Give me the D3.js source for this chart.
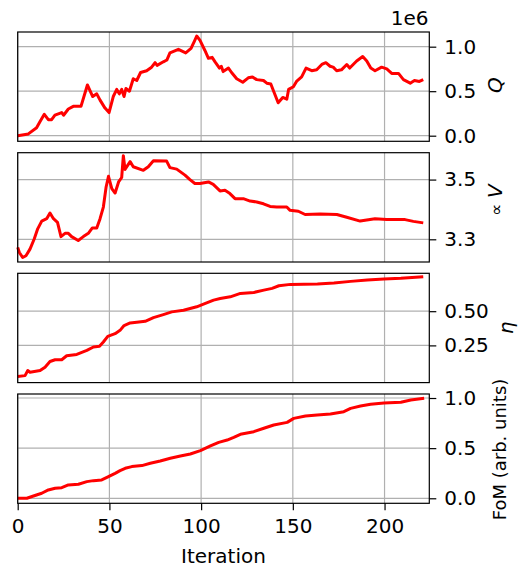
<!DOCTYPE html>
<html>
<head>
<meta charset="utf-8">
<script src="https://cdn.jsdelivr.net/npm/d3@7"></script>
<style>
body { margin: 0; background: #fff; }
svg text { font-family: "DejaVu Sans", sans-serif; fill: #000; }
</style>
</head>
<body>
<div id="chart"></div>
<script>
// values, per panel (iteration, value)
var qIter = [0,5.8,10.3,12.2,14.5,16.7,18.5,20.3,24,25,27.6,30.3,34.5,38,40.9,43.1,44.9,47.6,49.8,52.1,54,55.4,56.7,58,59,60.9,63,64.9,67,70.3,73,74.9,76,79.4,81.3,83,87.6,91.6,94.5,96.3,97.6,99.4,102,104,106,107.6,110,111,112,114.9,116.6,119.4,122.7,125.7,128,130.3,134,135.8,138,139.7,142,144.5,146.7,147.7,150.3,152,154.8,157.2,160.3,163,165.8,168,170.3,172,173.9,176.5,179.4,181,184.8,188.1,190.3,192.5,194.8,198.4,201.2,203.9,207.6,210.3,214,216.3,219,221.1];
var qMillions = [0,0.02,0.09,0.16,0.24,0.18,0.18,0.23,0.26,0.23,0.30,0.33,0.33,0.57,0.44,0.47,0.40,0.31,0.26,0.44,0.52,0.47,0.52,0.44,0.53,0.50,0.64,0.62,0.71,0.73,0.77,0.82,0.79,0.83,0.85,0.93,0.97,0.93,0.98,1.06,1.12,1.07,0.96,0.87,0.88,0.83,0.76,0.78,0.72,0.76,0.71,0.64,0.60,0.65,0.66,0.63,0.62,0.59,0.58,0.49,0.37,0.43,0.41,0.52,0.55,0.61,0.66,0.76,0.73,0.74,0.80,0.82,0.78,0.77,0.73,0.74,0.80,0.76,0.84,0.89,0.84,0.76,0.73,0.77,0.75,0.70,0.70,0.63,0.59,0.62,0.61,0.63];

var vIter = [0,0.9,2.7,4.5,6.7,9,10.9,13.1,15.8,17.6,19.5,21.7,23.6,25.8,27.6,29.4,33,35.8,38.5,40.7,43.1,44.9,46.7,48.2,49.5,51.3,53.1,55,56.7,57.6,58.5,61.3,63,68.5,71.2,74,81.2,83,86.7,91.2,93.9,96.6,99.4,104,106.6,110.3,113,115.7,118.5,123,126.7,130.3,134,137.6,141.2,146.7,148.5,153,156.7,164.9,174,179.4,186.7,194.8,201.2,211.2,215.7,221.1];
var vValues = [3.273,3.256,3.239,3.245,3.267,3.301,3.335,3.361,3.369,3.388,3.369,3.357,3.309,3.320,3.320,3.309,3.296,3.309,3.320,3.338,3.338,3.369,3.408,3.475,3.511,3.470,3.455,3.492,3.507,3.580,3.534,3.560,3.543,3.531,3.543,3.563,3.562,3.540,3.535,3.515,3.500,3.487,3.487,3.492,3.484,3.462,3.464,3.453,3.436,3.436,3.428,3.425,3.419,3.410,3.408,3.408,3.397,3.394,3.383,3.385,3.383,3.374,3.361,3.369,3.366,3.366,3.360,3.355];

var etaIter = [0,4,5.5,6.7,12.2,14.9,17.6,20.4,24,26.7,32.2,37.7,41.3,44.6,46.7,49.1,53.1,55.8,58,61.3,64.9,69.5,74,79.4,84,90.4,97.6,101.3,106.8,110.4,115.9,121.4,128.7,134.2,138.7,142.4,148.7,163.4,172.4,181.5,190.6,199.7,208.9,221.1];
var etaValues = [0.022,0.029,0.066,0.054,0.066,0.091,0.132,0.145,0.145,0.174,0.184,0.213,0.238,0.243,0.275,0.316,0.336,0.360,0.395,0.414,0.419,0.426,0.453,0.475,0.495,0.507,0.532,0.551,0.581,0.593,0.605,0.630,0.637,0.654,0.667,0.686,0.696,0.699,0.706,0.718,0.728,0.735,0.740,0.752];

var fomIter = [0,5,8.6,13.1,16.7,20.4,24,27.6,33.1,37.7,41.3,45.8,49.5,53.1,55.8,58.6,62.2,67.7,72.3,77.7,83.2,88.7,94.1,99.6,105.1,109.6,114.2,117.8,121.4,128.7,134.2,139.6,146.9,150.5,156.9,163.3,170.5,177.8,181.5,186.9,192.4,199.7,208.9,214.3,221.6];
var fomValues = [0,0,0.023,0.050,0.083,0.100,0.106,0.133,0.140,0.166,0.176,0.183,0.216,0.249,0.276,0.299,0.316,0.326,0.349,0.372,0.399,0.422,0.442,0.475,0.522,0.558,0.581,0.608,0.638,0.664,0.698,0.731,0.757,0.797,0.821,0.831,0.841,0.864,0.897,0.920,0.937,0.950,0.957,0.980,0.997];

var xTicks = [0, 50, 100, 150, 200];
var qTicks = [0, 0.5, 1.0];
var vTicks = [3.3, 3.5];
var etaTicks = [0.25, 0.5];
var fomTicks = [0, 0.5, 1.0];

const width = 518;
const height = 568;
const left = 17.7, right = 429.3;
const panelH = 109.3;
const tops = [32, 152.7, 273.3, 394];

var svg = d3.select("#chart").append("svg")
    .attr("width", width)
    .attr("height", height);

var x = d3.scaleLinear().domain([0, 224.4]).range([left, right]);

var panels = [
    {xs: qIter, ys: qMillions, domain: [-0.063, 1.165], ticks: qTicks, fmt: d3.format(".1f")},
    {xs: vIter, ys: vValues, domain: [3.224, 3.590], ticks: vTicks, fmt: d3.format(".1f")},
    {xs: etaIter, ys: etaValues, domain: [-0.022, 0.777], ticks: etaTicks, fmt: d3.format(".2f")},
    {xs: fomIter, ys: fomValues, domain: [-0.05, 1.04], ticks: fomTicks, fmt: d3.format(".1f")}
];

panels.forEach(function(p, i) {
    var top = tops[i];
    var y = d3.scaleLinear().domain(p.domain).range([top + panelH, top]);
    var g = svg.append("g");

    // grid
    g.selectAll(".vgrid").data(xTicks).enter().append("line")
        .attr("x1", d => x(d)).attr("x2", d => x(d))
        .attr("y1", top).attr("y2", top + panelH)
        .attr("stroke", "#b0b0b0").attr("stroke-width", 1.2);
    g.selectAll(".hgrid").data(p.ticks).enter().append("line")
        .attr("x1", left).attr("x2", right)
        .attr("y1", d => y(d)).attr("y2", d => y(d))
        .attr("stroke", "#b0b0b0").attr("stroke-width", 1.2);

    var line = d3.line()
        .x(d => x(d[0]))
        .y(d => y(d[1]));
    g.append("path")
        .datum(d3.zip(p.xs, p.ys))
        .attr("d", line)
        .attr("fill", "none")
        .attr("stroke", "#ff0000")
        .attr("stroke-width", 3)
        .attr("stroke-linejoin", "round");

    g.append("rect")
        .attr("x", left).attr("y", top)
        .attr("width", right - left).attr("height", panelH)
        .attr("fill", "none").attr("stroke", "#000").attr("stroke-width", 1.2);

    var yAxis = g.append("g")
        .attr("transform", "translate(" + right + ",0)")
        .call(d3.axisRight(y).tickValues(p.ticks).tickSize(7).tickPadding(8).tickFormat(p.fmt));
    yAxis.select(".domain").remove();
    yAxis.selectAll("line").attr("stroke", "#000").attr("stroke-width", 1.2);
    yAxis.selectAll("text").style("font-size", "20px").style("font-family", "DejaVu Sans").attr("fill", "#000");

    if (i == 3) {
        var xAxis = g.append("g")
            .attr("transform", "translate(0," + (top + panelH) + ")")
            .call(d3.axisBottom(x).tickValues(xTicks).tickSize(7).tickPadding(9).tickFormat(d3.format("d")));
        xAxis.select(".domain").remove();
        xAxis.selectAll("line").attr("stroke", "#000").attr("stroke-width", 1.2);
        xAxis.selectAll("text").style("font-size", "20px").style("font-family", "DejaVu Sans").attr("fill", "#000");
    }
});

// offset text and axis labels
svg.append("text").attr("x", 428.5).attr("y", 25)
    .attr("text-anchor", "end").style("font-size", "20px").text("1e6");

svg.append("text").attr("x", (left + right) / 2).attr("y", 563)
    .attr("text-anchor", "middle").style("font-size", "20px").text("Iteration");

function sideLabel(cx, cy, size) {
    return svg.append("text")
        .attr("transform", "translate(" + cx + "," + cy + ") rotate(-90)")
        .attr("text-anchor", "middle")
        .style("font-size", size + "px");
}

sideLabel(502, 85, 20).append("tspan").style("font-style", "italic").text("Q");
var vl = sideLabel(502, 200, 20);
vl.append("tspan").style("font-size", "17px").text("\u221d ");
vl.append("tspan").style("font-style", "italic").text("V");
sideLabel(513, 328, 20).style("font-style", "italic").text("\u03b7");
sideLabel(506, 449.5, 18).text("FoM (arb. units)");
</script>
</body>
</html>
